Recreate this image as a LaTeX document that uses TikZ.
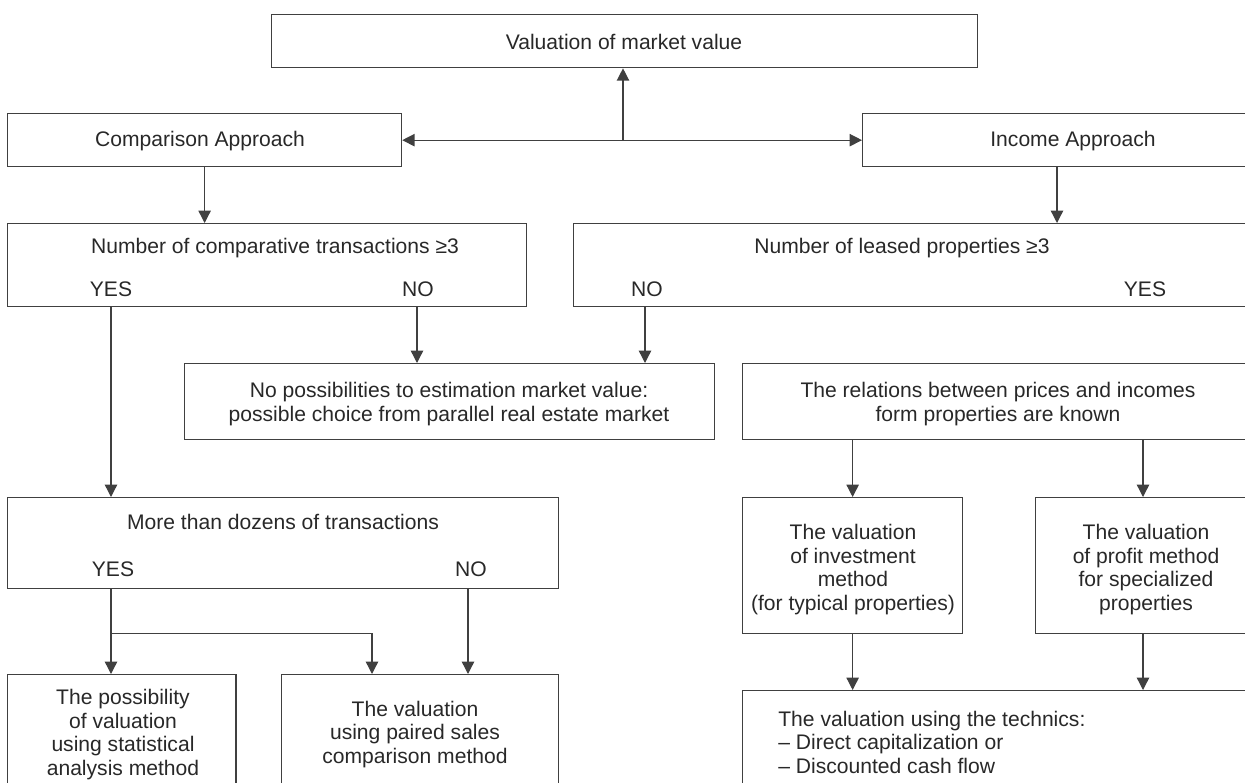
\documentclass[tikz,border=0pt]{standalone}
\usepackage{fontspec}
\setmainfont{Liberation Sans}
\usepackage{tikz}
\usetikzlibrary{arrows.meta, positioning, calc}
\definecolor{boxline}{RGB}{64,64,64}
\definecolor{txtgray}{RGB}{40,40,40}

\begin{document}
\begin{tikzpicture}[x=0.02cm, y=-0.02cm,
    >={Triangle[length=7pt, width=7pt]},
    box/.style={rectangle, draw=boxline, line width=0.75pt, inner sep=0pt,
                anchor=north west},
    txt/.style={font=\fontsize{12}{13.5}\selectfont, text=txtgray, inner sep=0pt,
                align=center, anchor=base},
    arr/.style={->, draw=boxline, line width=0.75pt}]

\useasboundingbox (0,0) rectangle (1245,782);
\clip (0,0) rectangle (1245,782);

%% Boxes
\node[box, minimum width=14.12cm, minimum height=1.06cm] (top)    at (271,14)  {};
\node[box, minimum width=7.88cm,  minimum height=1.06cm] (comp)   at (7,113)   {};
\node[box, minimum width=7.96cm,  minimum height=1.06cm] (inc)    at (862,113) {};
\node[box, minimum width=10.38cm, minimum height=1.66cm] (ncomp)  at (7,223)   {};
\node[box, minimum width=13.74cm, minimum height=1.66cm] (nlease) at (573,223) {};
\node[box, minimum width=10.6cm,  minimum height=1.52cm] (nopos)  at (184,363) {};
\node[box, minimum width=10.36cm, minimum height=1.52cm] (rel)    at (742,363) {};
\node[box, minimum width=11.02cm, minimum height=1.82cm] (dozens) at (7,497)   {};
\node[box, minimum width=4.4cm,   minimum height=2.72cm] (invest) at (742,497) {};
\node[box, minimum width=4.5cm,   minimum height=2.72cm] (profit) at (1035,497) {};
\node[box, minimum width=4.57cm,  minimum height=2.6cm]  (stat)   at (7,674)   {};
\node[box, minimum width=5.54cm,  minimum height=2.6cm]  (paired) at (281,674) {};
\node[box, minimum width=10.36cm, minimum height=2.4cm]  (techn)  at (742,690) {};

%% Texts (multi-line: base is the last line)
\node[txt] (topT)    at (624,49)    {Valuation of market value};
\node[txt] (compT)   at (200,146.5) {Comparison Approach};
\node[txt] (incT)    at (1073,146.5) {Income Approach};
\node[txt] (ncompT)  at (275,253)   {Number of comparative transactions ≥3};
\node[txt] (ncompY)  at (111,296)   {YES};
\node[txt] (ncompN)  at (418,296)   {NO};
\node[txt] (nleaseT) at (902,253)   {Number of leased properties ≥3};
\node[txt] (nleaseN) at (647,296)   {NO};
\node[txt] (nleaseY) at (1145,296)  {YES};
\node[txt] (noposT)  at (449,421.5) {No possibilities to estimation market value:\\
                                     possible choice from parallel real estate market};
\node[txt] (relT)    at (998,421.5) {The relations between prices and incomes\\
                                     form properties are known};
\node[txt] (dozensT) at (283,529.5) {More than dozens of transactions};
\node[txt] (dozensY) at (113,576.5) {YES};
\node[txt] (dozensN) at (471,576.5) {NO};
\node[txt] (investT) at (853,610.5) {The valuation\\of investment\\method\\(for typical properties)};
\node[txt] (profitT) at (1146,610.5) {The valuation\\of profit method\\for specialized\\properties};
\node[txt] (statT)   at (123,775.5) {The possibility\\of valuation\\using statistical\\analysis method};
\node[txt] (pairedT) at (415,763.5) {The valuation\\using paired sales\\comparison method};
\node[txt, align=left, anchor=base west] (technT) at (778,773.5)
    {The valuation using the technics:\\-- Direct capitalization or\\-- Discounted cash flow};

%% Arrow columns
\coordinate (colYes)  at (111,0);
\coordinate (colNo)   at (417,0);
\coordinate (colNoR)  at (645,0);
\coordinate (colInc)  at (1057,0);
\coordinate (colProf) at (1143,0);
\coordinate (colPair) at (372,0);
\coordinate (colNoD)  at (468,0);

%% Top level
\coordinate (hub) at (623,139.5);
\draw[arr, <->] (comp.east) -- (inc.west);
\draw[arr] (hub) -- (hub |- top.south);

%% Comparison side
\draw[arr] (comp.south) -- (comp.south |- ncomp.north);
\draw[arr] (ncomp.south -| colYes) -- (dozens.north -| colYes);
\draw[arr] (ncomp.south -| colNo) -- (nopos.north -| colNo);
\draw[arr] (dozens.south -| colYes) -- (stat.north -| colYes);
\coordinate (split) at ($(dozens.south -| colYes)!0.52!(stat.north -| colYes)$);
\draw[arr] (split) -| (paired.north -| colPair);
\draw[arr] (dozens.south -| colNoD) -- (paired.north -| colNoD);

%% Income side
\draw[arr] (inc.south -| colInc) -- (nlease.north -| colInc);
\draw[arr] (nlease.south -| colNoR) -- (nopos.north -| colNoR);
\draw[arr] (rel.south -| invest.north) -- (invest.north);
\draw[arr] (rel.south -| colProf) -- (profit.north -| colProf);
\draw[arr] (invest.south) -- (invest.south |- techn.north);
\draw[arr] (profit.south -| colProf) -- (techn.north -| colProf);

\end{tikzpicture}
\end{document}
